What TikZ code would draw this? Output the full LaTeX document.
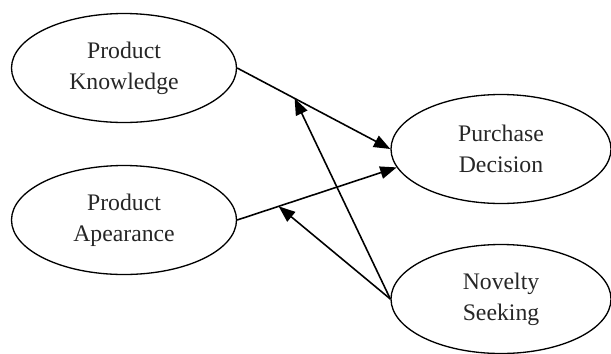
\documentclass[tikz,border=0pt]{standalone}
\usepackage{fontspec}
\setmainfont{Liberation Serif}
\usetikzlibrary{shapes.geometric,arrows.meta}

\tikzset{
	oval/.style={ellipse, draw, line width=0.75pt, minimum width=4.5cm, minimum height=2.18cm,
		inner sep=0pt, align=center, font=\fontsize{13.5}{17.6}\selectfont, text=black!85},
	arr/.style={line width=0.9pt, -{Triangle[length=0.33cm,width=0.25cm]}}
}

\begin{document}
\begin{tikzpicture}

	\useasboundingbox (0,0) rectangle (12.22,7.06);

	\node[oval] (PK) at (2.48,5.70) {Product\\Knowledge};
	\node[oval] (PA) at (2.48,2.66) {Product\\Apearance};
	\node[oval, minimum width=4.4cm] (PD) at (10.02,4.08) {Purchase\\Decision};
	\node[oval, minimum width=4.4cm] (NS) at (10.02,1.08) {Novelty\\Seeking};

	\draw[arr] (PK.east) -- (PD.west) coordinate[pos=0.375] (kmid);
	\draw[arr] (PA.east) -- (PD.190) coordinate[pos=0.26] (amid);

	\draw[arr] (NS.west) -- (kmid);
	\draw[arr] (NS.west) -- (amid);

\end{tikzpicture}
\end{document}
